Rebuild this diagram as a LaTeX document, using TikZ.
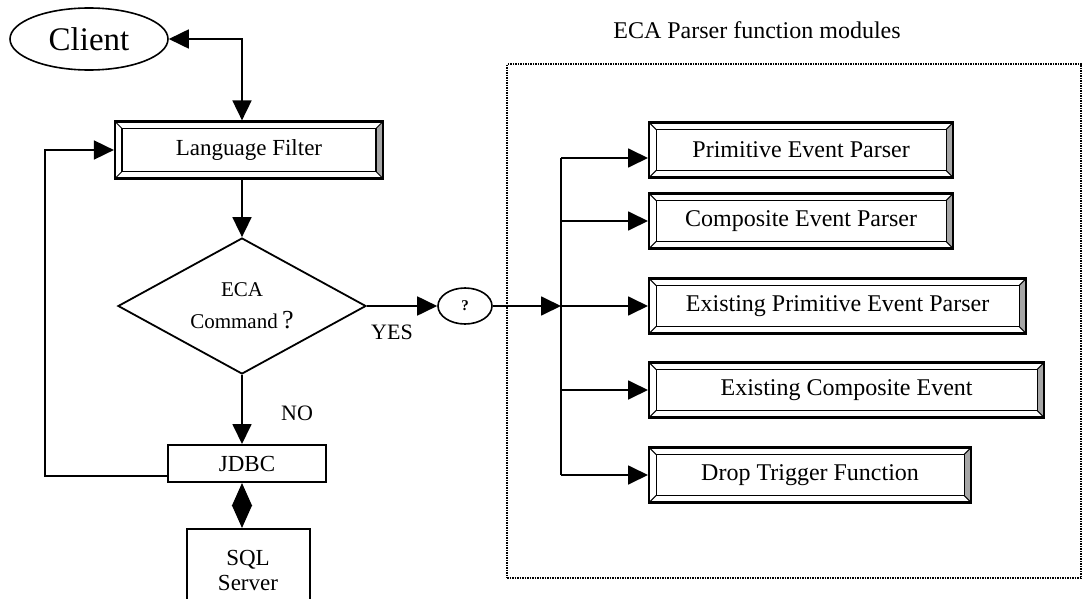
\documentclass[tikz,border=0pt]{standalone}
\usepackage{fontspec}
\setmainfont{Liberation Serif}
\usetikzlibrary{shapes.geometric,arrows.meta,calc}
\begin{document}
\begin{tikzpicture}[x=1pt,y=-1pt,
  conn/.style={line width=1.8pt},
  tip/.tip={Triangle[length=20pt,width=19pt]},
  arr/.style={conn,-tip},
  dblarr/.style={conn,tip-tip},
  plainbox/.style={draw,line width=2pt,rectangle,inner sep=0pt,font=\fontsize{23}{25}\selectfont},
  bevelbox/.style={draw,line width=2.2pt,rectangle,inner sep=0pt,minimum height=55pt,font=\fontsize{24}{26}\selectfont,
    path picture={
      \coordinate (ppa) at ($(path picture bounding box.north west)+(7,7)$);
      \coordinate (ppb) at ($(path picture bounding box.south east)+(-7,-7)$);
      \fill[black!35] (path picture bounding box.north east) -- (path picture bounding box.south east) -- (ppb) -- (ppa -| ppb) -- cycle;
      \draw[line width=1.1pt] (ppa) rectangle (ppb);
      \draw[line width=1pt] (path picture bounding box.north west) -- (ppa)
        (path picture bounding box.north east) -- (ppa -| ppb)
        (path picture bounding box.south east) -- (ppb)
        (path picture bounding box.south west) -- (ppa |- ppb);
    }},
  modbox/.style={bevelbox,anchor=west},
  lbl/.style={font=\fontsize{22}{24}\selectfont,inner sep=0pt},
  grpbox/.style={draw,line width=1.3pt,dash pattern=on 1.5pt off 1pt,rectangle,inner sep=0pt}
]
\useasboundingbox (0,0) rectangle (1084,599);

% left column
\node[draw,ellipse,line width=1.6pt,minimum width=158pt,minimum height=62pt,inner sep=0pt,
      font=\fontsize{33}{36}\selectfont] (cl) at (89,39) {Client};
\node[bevelbox,minimum width=268pt,minimum height=57pt,font=\fontsize{23}{25}\selectfont] (lf) at (249,150) {Language Filter};
\node[draw,diamond,shape aspect=1.8,line width=1.8pt,minimum width=248pt,minimum height=136pt,inner sep=0pt,
      align=center,font=\fontsize{21}{32}\selectfont] (eca) at (242,306) {ECA\\Command{\fontsize{26}{26}\selectfont\,?}};
\node[plainbox,minimum width=158pt,minimum height=37pt] (jdbc) at (247,463.5) {JDBC};
\node[plainbox,minimum width=123pt,minimum height=82pt,align=center,font=\fontsize{23}{25}\selectfont] (sql) at (248,570) {SQL\\Server};
\node[lbl] (no) at (297,413) {NO};
\node[lbl] (yes) at (392,332) {YES};
\node[draw,ellipse,line width=1.6pt,minimum width=54pt,minimum height=36pt,inner sep=0pt,
      font=\bfseries\fontsize{15}{16}\selectfont] (q) at (465,306) {?};

% right group
\node[font=\fontsize{24}{26}\selectfont,inner sep=0pt] (title) at (757,30) {ECA Parser function modules};
\node[grpbox,minimum width=574pt,minimum height=514pt] (grp) at (794,321) {};
\node[modbox,minimum width=304pt] (b1) at (648,150) {Primitive Event Parser};
\node[modbox,minimum width=304pt] (b2) at (648,221) {Composite Event Parser};
\node[modbox,minimum width=377pt] (b3) at (648,306) {Existing Primitive Event Parser};
\node[modbox,minimum width=395pt] (b4) at (648,390) {Existing Composite Event};
\node[modbox,minimum width=322pt] (b5) at (648,475) {Drop Trigger Function};

% helper coordinates
\coordinate (col) at (242,0);
\coordinate (lp) at (45,0);
\coordinate (jn) at (561,306);
\coordinate (jl) at ([yshift=7pt]jdbc.south west);
\coordinate (b1in) at ([yshift=-8pt]b1.west);

% connectors
\draw[dblarr] (cl.east) -- (cl.east -| col) -- (lf.north -| col);
\draw[arr] (lf.south -| col) -- (eca.north);
\draw[arr] (eca.south) -- (jdbc.north -| col);
\draw[conn,{Triangle[length=23pt,width=20pt]}-{Triangle[length=23pt,width=20pt]}] (jdbc.south -| col) -- (sql.north -| col);
\draw[arr] (jl) -- (jl -| lp) -- (lf.west -| lp) -- (lf.west);
\draw[arr] (eca.east) -- (q.west);
\draw[arr] (q.east) -- (jn);
\draw[conn] (b1in -| jn) -- (b5.west -| jn);
\draw[arr] (b1in -| jn) -- (b1in);
\draw[arr] (b2.west -| jn) -- (b2.west);
\draw[arr] (jn) -- (b3.west);
\draw[arr] (b4.west -| jn) -- (b4.west);
\draw[arr] (b5.west -| jn) -- (b5.west);
\end{tikzpicture}
\end{document}
